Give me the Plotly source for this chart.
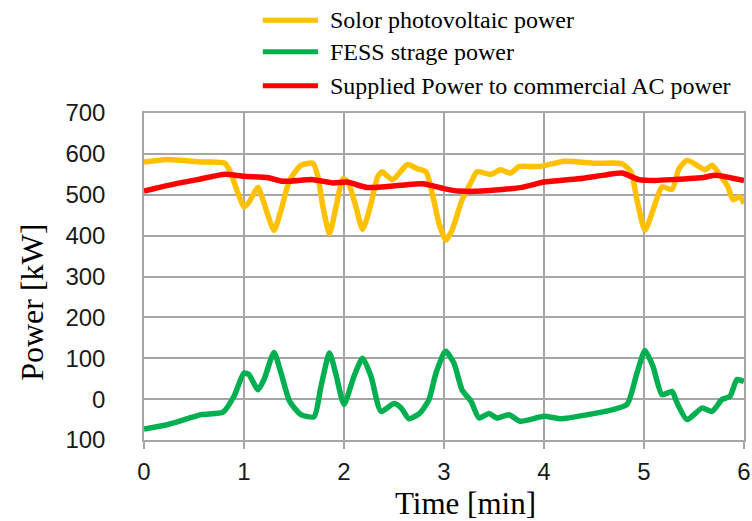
import plotly.graph_objects as go

# ---- data ----
pv_t = [0.0, 0.24, 0.575, 0.81, 0.87, 0.94, 1.0, 1.05, 1.14, 1.19, 1.30, 1.37, 1.455, 1.57, 1.69,
        1.74, 1.79, 1.855, 1.92, 1.99, 2.04, 2.12, 2.186, 2.27, 2.335, 2.38, 2.485, 2.635, 2.73,
        2.82, 2.89, 2.95, 3.0, 3.02, 3.08, 3.18, 3.28, 3.33, 3.47, 3.565, 3.665, 3.75, 3.95, 4.21,
        4.51, 4.78, 4.87, 4.93, 5.01, 5.09, 5.18, 5.28, 5.35, 5.43, 5.53, 5.61, 5.68, 5.76, 5.84,
        5.89, 5.96, 6.0]
pv_p = [580, 586, 580, 577, 552, 504, 470, 482, 518, 487, 413, 462, 535, 572, 577,
        543, 470, 405, 470, 539, 531, 470, 415, 478, 543, 556, 537, 574, 564,
        556, 495, 430, 397, 389, 413, 487, 535, 556, 550, 561, 553, 569, 569, 582,
        577, 576, 556, 487, 413, 462, 519, 513, 564, 584, 572, 561, 572, 548, 519,
        488, 495, 478]

fess_t = [0.0, 0.24, 0.575, 0.79, 0.90, 1.0, 1.05, 1.14, 1.2, 1.30, 1.37, 1.455, 1.57, 1.70,
          1.77, 1.855, 1.92, 2.0, 2.10, 2.186, 2.27, 2.37, 2.5, 2.57, 2.65, 2.76, 2.85, 2.92,
          3.0, 3.02, 3.1, 3.18, 3.27, 3.35, 3.45, 3.53, 3.65, 3.76, 4.0, 4.17, 4.44, 4.67,
          4.83, 4.93, 5.01, 5.09, 5.18, 5.28, 5.33, 5.43, 5.58, 5.68, 5.78, 5.86, 5.93, 6.0]
fess_p = [-73, -62, -38, -32, 7, 64, 60, 23, 48, 114, 64, -5, -38, -43,
          31, 113, 60, -13, 56, 100, 56, -30, -11, -21, -48, -34, -1, 64,
          113, 117, 88, 23, -5, -46, -35, -46, -38, -54, -42, -48, -38, -27,
          -13, 64, 119, 80, 11, 19, -9, -50, -22, -30, -1, 7, 48, 43]

ac_t = [0.0, 0.24, 0.575, 0.81, 1.0, 1.23, 1.39, 1.69, 1.89, 2.03, 2.23, 2.56, 2.79, 3.0,
        3.15, 3.38, 3.78, 4.0, 4.34, 4.6, 4.78, 4.95, 5.11, 5.28, 5.61, 5.71, 6.0]
ac_p = [509, 523, 539, 550, 545, 542, 533, 537, 529, 531, 518, 523, 527, 515,
        509, 509, 518, 531, 539, 548, 553, 537, 535, 537, 543, 548, 535]

series_names = ["Solor photovoltaic power", "FESS strage power",
                "Supplied Power to commercial AC power"]
series_colors = ["#FFC000", "#00B050", "#FF0000"]

x_ticks = [0, 1, 2, 3, 4, 5, 6]
y_ticks = [-100, 0, 100, 200, 300, 400, 500, 600, 700]
y_tick_text = ["100", "0", "100", "200", "300", "400", "500", "600", "700"]

# ---- figure ----
fig = go.Figure()
for t, p, name, col in zip([pv_t, fess_t, ac_t], [pv_p, fess_p, ac_p], series_names, series_colors):
    fig.add_trace(go.Scatter(x=t, y=p, mode="lines", name=name,
                             line=dict(color=col, width=5.5, shape="spline", smoothing=0.6),
                             showlegend=False))

grid = "#A6A6A6"
fig.update_layout(
    width=752, height=521,
    margin=dict(l=144, r=8, t=113, b=81),
    paper_bgcolor="white", plot_bgcolor="white",
    font=dict(family="Liberation Sans, Arial", size=24, color="#1a1a1a"),
    xaxis=dict(range=[0, 6], tickvals=x_ticks, showgrid=True, gridcolor=grid, gridwidth=1.5,
               showline=True, linecolor=grid, linewidth=1.5, mirror=True,
               ticks="outside", ticklen=7, tickcolor=grid, tickwidth=1.5,
               ticklabelstandoff=2, zeroline=False, automargin=False),
    yaxis=dict(range=[-100, 700], tickvals=y_ticks, ticktext=y_tick_text, showgrid=True,
               gridcolor=grid, gridwidth=1.5, showline=True, linecolor=grid, linewidth=1.5,
               mirror=True, ticks="", ticklabelstandoff=32, zeroline=False, automargin=False),
)

serif = "Liberation Serif, Times New Roman"
fig.add_annotation(text="Time [min]", xref="paper", yref="paper", x=0.535, y=-0.194,
                   xanchor="center", yanchor="middle", showarrow=False,
                   font=dict(family=serif, size=31, color="black"))
fig.add_annotation(text="Power [kW]", xref="paper", yref="paper", x=-0.187, y=0.422,
                   xanchor="center", yanchor="middle", textangle=-90, showarrow=False,
                   font=dict(family=serif, size=32, color="black"))

# custom legend
leg_y = [1.284, 1.187, 1.083]
for name, col, yy in zip(series_names, series_colors, leg_y):
    fig.add_shape(type="line", xref="paper", yref="paper", x0=0.198, x1=0.290, y0=yy, y1=yy,
                  line=dict(color=col, width=5))
    fig.add_annotation(text=name, xref="paper", yref="paper", x=0.306, y=yy,
                       xanchor="left", yanchor="middle", showarrow=False,
                       font=dict(family=serif, size=24, color="black"))

fig.write_html("out.html", config={"displayModeBar": False},
               post_script="document.body.style.margin='0';document.body.style.overflow='hidden';")
